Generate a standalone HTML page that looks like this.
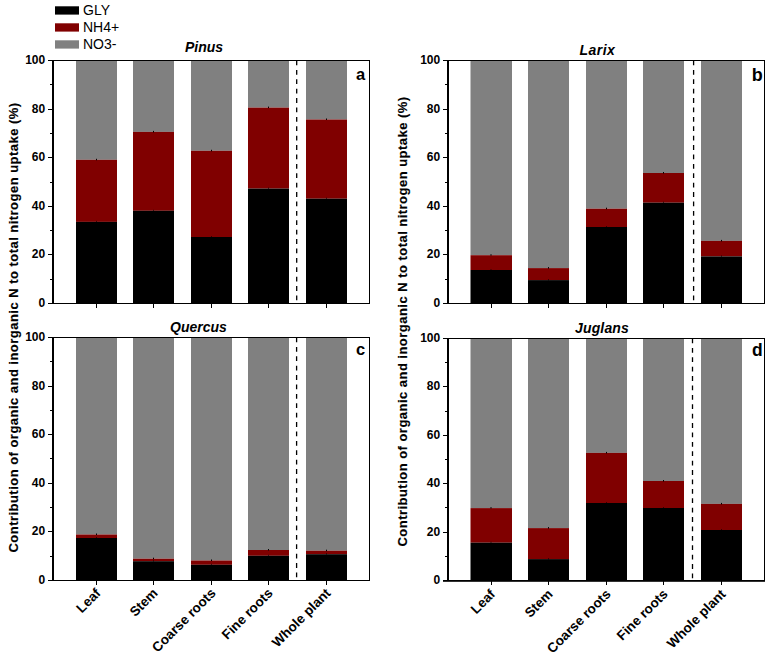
<!DOCTYPE html><html><head><meta charset="utf-8"><style>html,body{margin:0;padding:0;background:#fff;}svg{display:block;}</style></head><body>
<svg width="766" height="662" viewBox="0 0 766 662" style="font-family:'Liberation Sans', sans-serif">
<rect x="0" y="0" width="766" height="662" fill="#fff"/>
<rect x="55" y="6.3" width="24" height="8.3" fill="#000000"/>
<text x="83" y="14.6" font-size="14" fill="#000">GLY</text>
<rect x="55" y="23.3" width="24" height="8.3" fill="#800000"/>
<text x="83" y="31.6" font-size="14" fill="#000">NH4+</text>
<rect x="55" y="40.3" width="24" height="8.3" fill="#808080"/>
<text x="83" y="48.6" font-size="14" fill="#000">NO3-</text>
<rect x="76.0" y="61" width="41" height="98.8" fill="#808080"/>
<rect x="76.0" y="159.8" width="41" height="62.1" fill="#800000"/>
<rect x="76.0" y="221.9" width="41" height="81.1" fill="#000000"/>
<rect x="96.0" y="158.8" width="1" height="1.5" fill="#000"/>
<rect x="96.0" y="220.9" width="1" height="1.5" fill="#000" opacity="0.6"/>
<rect x="96" y="304" width="1" height="4" fill="#000"/>
<rect x="133.0" y="61" width="41" height="70.9" fill="#808080"/>
<rect x="133.0" y="131.9" width="41" height="78.9" fill="#800000"/>
<rect x="133.0" y="210.8" width="41" height="92.2" fill="#000000"/>
<rect x="153.0" y="130.9" width="1" height="1.5" fill="#000"/>
<rect x="153.0" y="209.8" width="1" height="1.5" fill="#000" opacity="0.6"/>
<rect x="153" y="304" width="1" height="4" fill="#000"/>
<rect x="191.0" y="61" width="41" height="89.8" fill="#808080"/>
<rect x="191.0" y="150.8" width="41" height="86.2" fill="#800000"/>
<rect x="191.0" y="237.0" width="41" height="66.0" fill="#000000"/>
<rect x="211.0" y="149.8" width="1" height="1.5" fill="#000"/>
<rect x="211.0" y="236.0" width="1" height="1.5" fill="#000" opacity="0.6"/>
<rect x="211" y="304" width="1" height="4" fill="#000"/>
<rect x="248.0" y="61" width="41" height="46.6" fill="#808080"/>
<rect x="248.0" y="107.6" width="41" height="81.0" fill="#800000"/>
<rect x="248.0" y="188.6" width="41" height="114.4" fill="#000000"/>
<rect x="268.0" y="106.6" width="1" height="1.5" fill="#000"/>
<rect x="268.0" y="187.6" width="1" height="1.5" fill="#000" opacity="0.6"/>
<rect x="268" y="304" width="1" height="4" fill="#000"/>
<rect x="306.0" y="61" width="41" height="58.5" fill="#808080"/>
<rect x="306.0" y="119.5" width="41" height="79.2" fill="#800000"/>
<rect x="306.0" y="198.7" width="41" height="104.3" fill="#000000"/>
<rect x="326.0" y="118.5" width="1" height="1.5" fill="#000"/>
<rect x="326.0" y="197.7" width="1" height="1.5" fill="#000" opacity="0.6"/>
<rect x="326" y="304" width="1" height="4" fill="#000"/>
<line x1="296.7" y1="60.5" x2="296.7" y2="303" stroke="#000" stroke-width="1.3" stroke-dasharray="4.8 4.6"/>
<rect x="48" y="60" width="322" height="1" fill="#000"/>
<rect x="48" y="303" width="322" height="1" fill="#000"/>
<rect x="52" y="60" width="2" height="244" fill="#000"/>
<rect x="369" y="60" width="1" height="244" fill="#000"/>
<rect x="48" y="303.0" width="4" height="1" fill="#000"/>
<text x="45.2" y="306.7" font-size="12" font-weight="bold" text-anchor="end" fill="#000">0</text>
<rect x="50" y="279.0" width="2" height="1" fill="#000"/>
<rect x="48" y="254.0" width="4" height="1" fill="#000"/>
<text x="45.2" y="257.7" font-size="12" font-weight="bold" text-anchor="end" fill="#000">20</text>
<rect x="50" y="230.0" width="2" height="1" fill="#000"/>
<rect x="48" y="206.0" width="4" height="1" fill="#000"/>
<text x="45.2" y="209.7" font-size="12" font-weight="bold" text-anchor="end" fill="#000">40</text>
<rect x="50" y="182.0" width="2" height="1" fill="#000"/>
<rect x="48" y="157.0" width="4" height="1" fill="#000"/>
<text x="45.2" y="160.7" font-size="12" font-weight="bold" text-anchor="end" fill="#000">60</text>
<rect x="50" y="133.0" width="2" height="1" fill="#000"/>
<rect x="48" y="109.0" width="4" height="1" fill="#000"/>
<text x="45.2" y="112.7" font-size="12" font-weight="bold" text-anchor="end" fill="#000">80</text>
<rect x="50" y="84.0" width="2" height="1" fill="#000"/>
<rect x="48" y="60.0" width="4" height="1" fill="#000"/>
<text x="45.2" y="63.7" font-size="12" font-weight="bold" text-anchor="end" fill="#000">100</text>
<text x="185" y="52" font-size="14" font-weight="bold" font-style="italic" letter-spacing="0" fill="#000">Pinus</text>
<text x="356" y="80.3" font-size="16.5" font-weight="bold" fill="#000">a</text>
<rect x="470.5" y="61" width="41.5" height="194.2" fill="#808080"/>
<rect x="470.5" y="255.2" width="41.5" height="14.8" fill="#800000"/>
<rect x="470.5" y="270.0" width="41.5" height="33.0" fill="#000000"/>
<rect x="490.5" y="254.2" width="1" height="1.5" fill="#000"/>
<rect x="490.5" y="269.0" width="1" height="1.5" fill="#000" opacity="0.6"/>
<rect x="491" y="304" width="1" height="4" fill="#000"/>
<rect x="528.0" y="61" width="41" height="207.1" fill="#808080"/>
<rect x="528.0" y="268.1" width="41" height="12.0" fill="#800000"/>
<rect x="528.0" y="280.1" width="41" height="22.9" fill="#000000"/>
<rect x="548.0" y="267.1" width="1" height="1.5" fill="#000"/>
<rect x="548.0" y="279.1" width="1" height="1.5" fill="#000" opacity="0.6"/>
<rect x="548" y="304" width="1" height="4" fill="#000"/>
<rect x="586.0" y="61" width="41" height="147.7" fill="#808080"/>
<rect x="586.0" y="208.7" width="41" height="18.3" fill="#800000"/>
<rect x="586.0" y="227.0" width="41" height="76.0" fill="#000000"/>
<rect x="606.0" y="207.7" width="1" height="1.5" fill="#000"/>
<rect x="606.0" y="226.0" width="1" height="1.5" fill="#000" opacity="0.6"/>
<rect x="606" y="304" width="1" height="4" fill="#000"/>
<rect x="643.0" y="61" width="41" height="112.0" fill="#808080"/>
<rect x="643.0" y="173.0" width="41" height="29.7" fill="#800000"/>
<rect x="643.0" y="202.7" width="41" height="100.3" fill="#000000"/>
<rect x="663.0" y="172.0" width="1" height="1.5" fill="#000"/>
<rect x="663.0" y="201.7" width="1" height="1.5" fill="#000" opacity="0.6"/>
<rect x="663" y="304" width="1" height="4" fill="#000"/>
<rect x="701.0" y="61" width="41" height="179.9" fill="#808080"/>
<rect x="701.0" y="240.9" width="41" height="15.5" fill="#800000"/>
<rect x="701.0" y="256.4" width="41" height="46.6" fill="#000000"/>
<rect x="721.0" y="239.9" width="1" height="1.5" fill="#000"/>
<rect x="721.0" y="255.4" width="1" height="1.5" fill="#000" opacity="0.6"/>
<rect x="721" y="304" width="1" height="4" fill="#000"/>
<line x1="693.6" y1="60.5" x2="693.6" y2="303" stroke="#000" stroke-width="1.3" stroke-dasharray="4.8 4.6"/>
<rect x="443" y="60" width="322" height="1" fill="#000"/>
<rect x="443" y="303" width="322" height="1" fill="#000"/>
<rect x="447" y="60" width="2" height="244" fill="#000"/>
<rect x="764" y="60" width="1" height="244" fill="#000"/>
<rect x="443" y="303.0" width="4" height="1" fill="#000"/>
<text x="440.2" y="306.7" font-size="12" font-weight="bold" text-anchor="end" fill="#000">0</text>
<rect x="445" y="279.0" width="2" height="1" fill="#000"/>
<rect x="443" y="254.0" width="4" height="1" fill="#000"/>
<text x="440.2" y="257.7" font-size="12" font-weight="bold" text-anchor="end" fill="#000">20</text>
<rect x="445" y="230.0" width="2" height="1" fill="#000"/>
<rect x="443" y="206.0" width="4" height="1" fill="#000"/>
<text x="440.2" y="209.7" font-size="12" font-weight="bold" text-anchor="end" fill="#000">40</text>
<rect x="445" y="182.0" width="2" height="1" fill="#000"/>
<rect x="443" y="157.0" width="4" height="1" fill="#000"/>
<text x="440.2" y="160.7" font-size="12" font-weight="bold" text-anchor="end" fill="#000">60</text>
<rect x="445" y="133.0" width="2" height="1" fill="#000"/>
<rect x="443" y="109.0" width="4" height="1" fill="#000"/>
<text x="440.2" y="112.7" font-size="12" font-weight="bold" text-anchor="end" fill="#000">80</text>
<rect x="445" y="84.0" width="2" height="1" fill="#000"/>
<rect x="443" y="60.0" width="4" height="1" fill="#000"/>
<text x="440.2" y="63.7" font-size="12" font-weight="bold" text-anchor="end" fill="#000">100</text>
<text x="579.5" y="54.7" font-size="14" font-weight="bold" font-style="italic" letter-spacing="0.45" fill="#000">Larix</text>
<text x="751.7" y="80.5" font-size="18" font-weight="bold" fill="#000">b</text>
<rect x="76.0" y="338" width="41" height="196.5" fill="#808080"/>
<rect x="76.0" y="534.5" width="41" height="3.5" fill="#800000"/>
<rect x="76.0" y="538.0" width="41" height="42.0" fill="#000000"/>
<rect x="96.0" y="533.5" width="1" height="1.5" fill="#000"/>
<rect x="96.0" y="537.0" width="1" height="1.5" fill="#000" opacity="0.6"/>
<rect x="96" y="581" width="1" height="4" fill="#000"/>
<rect x="133.0" y="338" width="41" height="220.7" fill="#808080"/>
<rect x="133.0" y="558.7" width="41" height="2.5" fill="#800000"/>
<rect x="133.0" y="561.2" width="41" height="18.8" fill="#000000"/>
<rect x="153.0" y="557.7" width="1" height="1.5" fill="#000"/>
<rect x="153.0" y="560.2" width="1" height="1.5" fill="#000" opacity="0.6"/>
<rect x="153" y="581" width="1" height="4" fill="#000"/>
<rect x="191.0" y="338" width="41" height="222.5" fill="#808080"/>
<rect x="191.0" y="560.5" width="41" height="4.3" fill="#800000"/>
<rect x="191.0" y="564.8" width="41" height="15.2" fill="#000000"/>
<rect x="211.0" y="559.5" width="1" height="1.5" fill="#000"/>
<rect x="211.0" y="563.8" width="1" height="1.5" fill="#000" opacity="0.6"/>
<rect x="211" y="581" width="1" height="4" fill="#000"/>
<rect x="248.0" y="338" width="41" height="212.0" fill="#808080"/>
<rect x="248.0" y="550.0" width="41" height="5.8" fill="#800000"/>
<rect x="248.0" y="555.8" width="41" height="24.2" fill="#000000"/>
<rect x="268.0" y="549.0" width="1" height="1.5" fill="#000"/>
<rect x="268.0" y="554.8" width="1" height="1.5" fill="#000" opacity="0.6"/>
<rect x="268" y="581" width="1" height="4" fill="#000"/>
<rect x="306.0" y="338" width="41" height="212.7" fill="#808080"/>
<rect x="306.0" y="550.7" width="41" height="3.5" fill="#800000"/>
<rect x="306.0" y="554.2" width="41" height="25.8" fill="#000000"/>
<rect x="326.0" y="549.7" width="1" height="1.5" fill="#000"/>
<rect x="326.0" y="553.2" width="1" height="1.5" fill="#000" opacity="0.6"/>
<rect x="326" y="581" width="1" height="4" fill="#000"/>
<line x1="296.6" y1="337.5" x2="296.6" y2="580" stroke="#000" stroke-width="1.3" stroke-dasharray="4.8 4.6"/>
<rect x="48" y="337" width="322" height="1" fill="#000"/>
<rect x="48" y="580" width="322" height="1" fill="#000"/>
<rect x="52" y="337" width="2" height="244" fill="#000"/>
<rect x="369" y="337" width="1" height="244" fill="#000"/>
<rect x="48" y="580.0" width="4" height="1" fill="#000"/>
<text x="45.2" y="583.7" font-size="12" font-weight="bold" text-anchor="end" fill="#000">0</text>
<rect x="50" y="556.0" width="2" height="1" fill="#000"/>
<rect x="48" y="531.0" width="4" height="1" fill="#000"/>
<text x="45.2" y="534.7" font-size="12" font-weight="bold" text-anchor="end" fill="#000">20</text>
<rect x="50" y="507.0" width="2" height="1" fill="#000"/>
<rect x="48" y="483.0" width="4" height="1" fill="#000"/>
<text x="45.2" y="486.7" font-size="12" font-weight="bold" text-anchor="end" fill="#000">40</text>
<rect x="50" y="458.0" width="2" height="1" fill="#000"/>
<rect x="48" y="434.0" width="4" height="1" fill="#000"/>
<text x="45.2" y="437.7" font-size="12" font-weight="bold" text-anchor="end" fill="#000">60</text>
<rect x="50" y="410.0" width="2" height="1" fill="#000"/>
<rect x="48" y="386.0" width="4" height="1" fill="#000"/>
<text x="45.2" y="389.7" font-size="12" font-weight="bold" text-anchor="end" fill="#000">80</text>
<rect x="50" y="361.0" width="2" height="1" fill="#000"/>
<rect x="48" y="337.0" width="4" height="1" fill="#000"/>
<text x="45.2" y="340.7" font-size="12" font-weight="bold" text-anchor="end" fill="#000">100</text>
<text x="170" y="331.6" font-size="14" font-weight="bold" font-style="italic" letter-spacing="0" fill="#000">Quercus</text>
<text x="356" y="354.6" font-size="16.5" font-weight="bold" fill="#000">c</text>
<rect x="470.5" y="339" width="41.5" height="169.1" fill="#808080"/>
<rect x="470.5" y="508.1" width="41.5" height="34.6" fill="#800000"/>
<rect x="470.5" y="542.7" width="41.5" height="37.3" fill="#000000"/>
<rect x="490.5" y="507.1" width="1" height="1.5" fill="#000"/>
<rect x="490.5" y="541.7" width="1" height="1.5" fill="#000" opacity="0.6"/>
<rect x="491" y="581" width="1" height="4" fill="#000"/>
<rect x="528.0" y="339" width="41" height="189.1" fill="#808080"/>
<rect x="528.0" y="528.1" width="41" height="31.0" fill="#800000"/>
<rect x="528.0" y="559.1" width="41" height="20.9" fill="#000000"/>
<rect x="548.0" y="527.1" width="1" height="1.5" fill="#000"/>
<rect x="548.0" y="558.1" width="1" height="1.5" fill="#000" opacity="0.6"/>
<rect x="548" y="581" width="1" height="4" fill="#000"/>
<rect x="586.0" y="339" width="41" height="113.9" fill="#808080"/>
<rect x="586.0" y="452.9" width="41" height="50.1" fill="#800000"/>
<rect x="586.0" y="503.0" width="41" height="77.0" fill="#000000"/>
<rect x="606.0" y="451.9" width="1" height="1.5" fill="#000"/>
<rect x="606.0" y="502.0" width="1" height="1.5" fill="#000" opacity="0.6"/>
<rect x="606" y="581" width="1" height="4" fill="#000"/>
<rect x="643.0" y="339" width="41" height="142.0" fill="#808080"/>
<rect x="643.0" y="481.0" width="41" height="27.0" fill="#800000"/>
<rect x="643.0" y="508.0" width="41" height="72.0" fill="#000000"/>
<rect x="663.0" y="480.0" width="1" height="1.5" fill="#000"/>
<rect x="663.0" y="507.0" width="1" height="1.5" fill="#000" opacity="0.6"/>
<rect x="663" y="581" width="1" height="4" fill="#000"/>
<rect x="701.0" y="339" width="41" height="164.9" fill="#808080"/>
<rect x="701.0" y="503.9" width="41" height="26.1" fill="#800000"/>
<rect x="701.0" y="530.0" width="41" height="50.0" fill="#000000"/>
<rect x="721.0" y="502.9" width="1" height="1.5" fill="#000"/>
<rect x="721.0" y="529.0" width="1" height="1.5" fill="#000" opacity="0.6"/>
<rect x="721" y="581" width="1" height="4" fill="#000"/>
<line x1="692.5" y1="338.5" x2="692.5" y2="580" stroke="#000" stroke-width="1.3" stroke-dasharray="4.8 4.6"/>
<rect x="443" y="338" width="322" height="1" fill="#000"/>
<rect x="443" y="580" width="322" height="1.8" fill="#000"/>
<rect x="447" y="338" width="2" height="243" fill="#000"/>
<rect x="764" y="338" width="1" height="243" fill="#000"/>
<rect x="443" y="580.0" width="4" height="1" fill="#000"/>
<text x="440.2" y="583.7" font-size="12" font-weight="bold" text-anchor="end" fill="#000">0</text>
<rect x="445" y="556.0" width="2" height="1" fill="#000"/>
<rect x="443" y="532.0" width="4" height="1" fill="#000"/>
<text x="440.2" y="535.7" font-size="12" font-weight="bold" text-anchor="end" fill="#000">20</text>
<rect x="445" y="507.0" width="2" height="1" fill="#000"/>
<rect x="443" y="483.0" width="4" height="1" fill="#000"/>
<text x="440.2" y="486.7" font-size="12" font-weight="bold" text-anchor="end" fill="#000">40</text>
<rect x="445" y="459.0" width="2" height="1" fill="#000"/>
<rect x="443" y="435.0" width="4" height="1" fill="#000"/>
<text x="440.2" y="438.7" font-size="12" font-weight="bold" text-anchor="end" fill="#000">60</text>
<rect x="445" y="411.0" width="2" height="1" fill="#000"/>
<rect x="443" y="386.0" width="4" height="1" fill="#000"/>
<text x="440.2" y="389.7" font-size="12" font-weight="bold" text-anchor="end" fill="#000">80</text>
<rect x="445" y="362.0" width="2" height="1" fill="#000"/>
<rect x="443" y="338.0" width="4" height="1" fill="#000"/>
<text x="440.2" y="341.7" font-size="12" font-weight="bold" text-anchor="end" fill="#000">100</text>
<text x="575" y="333" font-size="14" font-weight="bold" font-style="italic" letter-spacing="0.15" fill="#000">Juglans</text>
<text x="751.9" y="355.5" font-size="17.5" font-weight="bold" fill="#000">d</text>
<text transform="translate(101.5,594) rotate(-45)" font-size="13.5" font-weight="bold" text-anchor="end" fill="#000">Leaf</text>
<text transform="translate(158.5,594) rotate(-45)" font-size="13.5" font-weight="bold" text-anchor="end" fill="#000">Stem</text>
<text transform="translate(216.5,594) rotate(-45)" font-size="13.5" font-weight="bold" text-anchor="end" fill="#000">Coarse roots</text>
<text transform="translate(273.5,594) rotate(-45)" font-size="13.5" font-weight="bold" text-anchor="end" fill="#000">Fine roots</text>
<text transform="translate(331.5,594) rotate(-45)" font-size="13.5" font-weight="bold" text-anchor="end" fill="#000">Whole plant</text>
<text transform="translate(496.0,595) rotate(-45)" font-size="13.5" font-weight="bold" text-anchor="end" fill="#000">Leaf</text>
<text transform="translate(553.5,595) rotate(-45)" font-size="13.5" font-weight="bold" text-anchor="end" fill="#000">Stem</text>
<text transform="translate(611.5,595) rotate(-45)" font-size="13.5" font-weight="bold" text-anchor="end" fill="#000">Coarse roots</text>
<text transform="translate(668.5,595) rotate(-45)" font-size="13.5" font-weight="bold" text-anchor="end" fill="#000">Fine roots</text>
<text transform="translate(726.5,595) rotate(-45)" font-size="13.5" font-weight="bold" text-anchor="end" fill="#000">Whole plant</text>
<text transform="translate(17.5,327.5) rotate(-90)" font-size="13" letter-spacing="0.47" stroke="#000" stroke-width="0.15" font-weight="bold" text-anchor="middle" fill="#000">Contribution of organic and inorganic N to total nitrogen uptake (%)</text>
<text transform="translate(406.5,321.5) rotate(-90)" font-size="13" letter-spacing="0.47" stroke="#000" stroke-width="0.15" font-weight="bold" text-anchor="middle" fill="#000">Contribution of organic and inorganic N to total nitrogen uptake (%)</text>
</svg></body></html>
